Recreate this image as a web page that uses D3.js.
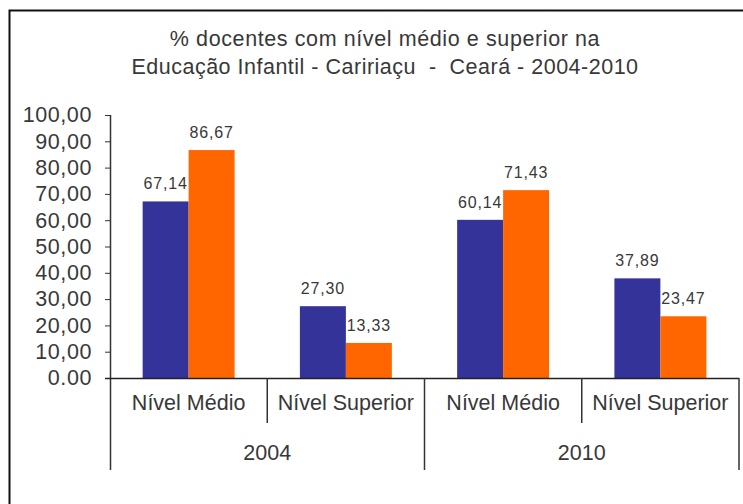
<!DOCTYPE html>
<html>
<head>
<meta charset="utf-8">
<script src="https://cdn.jsdelivr.net/npm/d3@7/dist/d3.min.js"></script>
<style>
  html, body { margin: 0; padding: 0; background: #fff; }
  svg { display: block; }
  text { font-family: "Liberation Sans", Arial, sans-serif; fill: #383838; white-space: pre; }
</style>
</head>
<body>
<svg id="chart" width="743" height="504"></svg>
<script>
// Chart data
const titleLines = [
  "% docentes com nível médio e superior na",
  "Educação Infantil - Caririaçu  -  Ceará - 2004-2010"
];
const years = ["2004", "2010"];
const levels = ["Nível Médio", "Nível Superior"];
const seriesA = [67.14, 27.30, 60.14, 37.89];   // blue bars
const seriesB = [86.67, 13.33, 71.43, 23.47];   // orange bars
const yTicks = [0, 10, 20, 30, 40, 50, 60, 70, 80, 90, 100];
const seriesColors = ["#333399", "#ff6600"];

const svg = d3.select("#chart");
const W = 743, H = 504;

// outer frame (runs off the right and bottom edges)
svg.append("path")
  .attr("d", `M9.5,${H} L9.5,10.5 L${W},10.5`)
  .attr("fill", "none").attr("stroke", "#111").attr("stroke-width", 2);

// title
svg.append("g").selectAll("text").data(titleLines).join("text")
  .attr("x", 385).attr("y", (d, i) => 46 + i * 28)
  .attr("text-anchor", "middle")
  .attr("font-size", 21.5)
  .attr("letter-spacing", (d, i) => i === 0 ? 0.6 : 0.5)
  .text(d => d);

const plot = { left: 110, right: 739, top: 115, bottom: 378 };

const y = d3.scaleLinear().domain([0, 100]).range([plot.bottom, plot.top]);

// one band per (year, level) pair
const cats = [];
years.forEach(yr => levels.forEach(lv => cats.push({ year: yr, level: lv })));
const x0 = d3.scaleBand().domain(d3.range(cats.length)).range([plot.left, plot.right]).padding(0);
const x1 = d3.scaleBand().domain([0, 1]).range([0, x0.bandwidth()]).paddingInner(0).paddingOuter(0.71);

// bars
const barData = [];
cats.forEach((c, i) => {
  barData.push({ i, s: 0, v: seriesA[i] });
  barData.push({ i, s: 1, v: seriesB[i] });
});

svg.append("g").selectAll("rect").data(barData).join("rect")
  .attr("x", d => x0(d.i) + x1(d.s))
  .attr("y", d => y(d.v))
  .attr("width", x1.bandwidth())
  .attr("height", d => y(0) - y(d.v))
  .attr("fill", d => seriesColors[d.s]);

// value labels
const fmt = v => v.toFixed(2).replace(".", ",");
svg.append("g").selectAll("text").data(barData).join("text")
  .attr("x", d => x0(d.i) + x1(d.s) + x1.bandwidth() / 2)
  .attr("y", d => y(d.v) - 12)
  .attr("text-anchor", "middle")
  .attr("font-size", 16)
  .attr("letter-spacing", 0.8)
  .text(d => fmt(d.v));

// y axis
const yAxis = d3.axisLeft(y).tickValues(yTicks).tickSize(5).tickPadding(13)
  .tickFormat(d => fmt(d).replace(/^0,00$/, "0.00"));
const gy = svg.append("g").attr("transform", `translate(${plot.left},0)`).call(yAxis);
gy.select(".domain").remove();
gy.selectAll(".tick line").attr("stroke", "#333");
gy.selectAll(".tick text").attr("font-size", 21.5).attr("fill", "#383838")
  .attr("letter-spacing", 0.6)
  .attr("font-family", "Liberation Sans, Arial, sans-serif");
gy.append("line").attr("x1", 0.5).attr("x2", 0.5)
  .attr("y1", y(100)).attr("y2", 470).attr("stroke", "#333").attr("stroke-width", 1.5);

// x axis baseline
svg.append("line")
  .attr("x1", plot.left - 5).attr("x2", plot.right)
  .attr("y1", y(0) + 0.5).attr("y2", y(0) + 0.5)
  .attr("stroke", "#222").attr("stroke-width", 1.5);

// category separators: short between levels, long between years
const seps = d3.range(1, cats.length + 1).map(i => ({
  x: i < cats.length ? x0(i) : plot.right,
  long: i % levels.length === 0
}));
svg.append("g").selectAll("line").data(seps).join("line")
  .attr("x1", d => d.x).attr("x2", d => d.x)
  .attr("y1", y(0)).attr("y2", d => d.long ? 470 : 423)
  .attr("stroke", "#333").attr("stroke-width", 1.5);

// level labels
svg.append("g").selectAll("text").data(cats).join("text")
  .attr("x", (d, i) => x0(i) + x0.bandwidth() / 2)
  .attr("y", 410)
  .attr("text-anchor", "middle")
  .attr("font-size", 21.5)
  .text(d => d.level);

// year labels
svg.append("g").selectAll("text").data(years).join("text")
  .attr("x", (d, i) => x0(i * levels.length) + x0.bandwidth() * levels.length / 2)
  .attr("y", 460)
  .attr("text-anchor", "middle")
  .attr("font-size", 21.5)
  .text(d => d);
</script>
</body>
</html>
